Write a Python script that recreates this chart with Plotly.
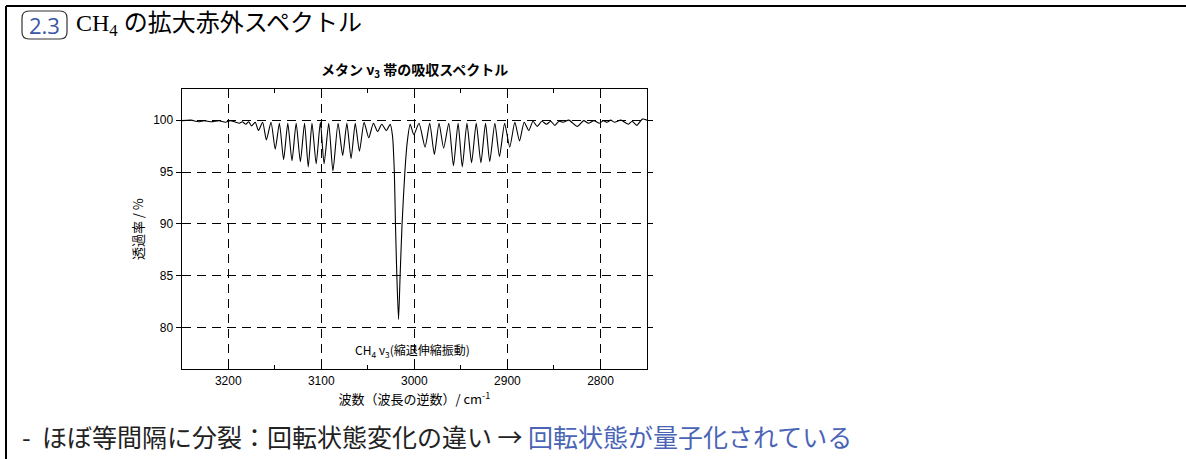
import plotly.graph_objects as go

# ---- data ----
wavenumber = [3250, 3240, 3232, 3226, 3218, 3210, 3203, 3198, 3192, 3188, 3185, 3181, 3178,
              3175, 3171, 3167.5, 3163, 3159, 3154, 3149.5, 3145, 3140.5, 3136, 3131.5, 3127,
              3122.5, 3118, 3114, 3110, 3105.5, 3101, 3097, 3092, 3087.5, 3082, 3077, 3072.5,
              3068, 3063.5, 3059, 3054, 3049, 3044, 3039.5, 3035, 3030, 3026, 3023.5, 3021.5,
              3020.3, 3018.8, 3017, 3015.3, 3013.2, 3010.2, 3007.5, 3004.5, 3000.5, 2995,
              2988.5, 2983.5, 2978.5, 2973.5, 2968.5, 2963, 2958, 2953, 2948.5, 2943.5, 2938.5,
              2933.5, 2928.5, 2923.5, 2919, 2913.5, 2908.5, 2903, 2897.5, 2892, 2887, 2882,
              2877, 2872.5, 2868, 2863, 2858, 2853.5, 2849, 2844.5, 2840, 2834, 2825, 2818,
              2813, 2807, 2801, 2797, 2793, 2789, 2785, 2778, 2770, 2766, 2761, 2755, 2750]
transmittance = [99.95, 100.0, 99.85, 99.95, 99.85, 99.95, 99.8, 99.95, 99.8, 99.7, 99.85, 99.6, 99.85,
                 99.45, 99.8, 99.0, 99.8, 98.1, 99.8, 97.2, 99.7, 96.2, 99.7, 96.1, 99.7,
                 96.0, 99.7, 95.5, 99.7, 95.8, 99.8, 95.8, 99.7, 95.1, 99.7, 96.6, 99.7,
                 96.3, 99.7, 97.0, 99.8, 98.3, 99.7, 98.9, 99.6, 99.0, 99.6, 98.5, 95.0,
                 90.0, 85.0, 80.8, 85.0, 90.0, 95.0, 98.0, 99.6, 98.6, 99.7,
                 97.4, 99.7, 96.7, 99.7, 97.3, 99.7, 95.6, 99.7, 95.5, 99.7, 95.9,
                 99.7, 95.9, 99.7, 96.0, 99.7, 96.5, 99.7, 97.4, 99.8, 98.0, 99.8,
                 99.0, 99.9, 99.4, 99.9, 99.6, 99.9, 99.5, 99.9, 99.8, 100.0, 99.4, 99.95,
                 99.7, 99.95, 99.7, 99.95, 99.8, 100.0, 99.8, 100.0, 99.6, 99.9, 99.5, 100.1, 100.0]

x_ticks = [3200, 3100, 3000, 2900, 2800]
y_ticks = [80, 85, 90, 95, 100]

header_num = "2.3"
header_title = "CH<sub>4</sub> の拡大赤外スペクトル"
chart_title = "<b>メタン ν<sub>3</sub> 帯の吸収スペクトル</b>"
x_title = "波数（波長の逆数）/ cm<sup>-1</sup>"
y_title = "透過率 / %"
band_label = "CH<sub>4</sub> ν<sub>3</sub>(縮退伸縮振動)"
note_black = "-  ほぼ等間隔に分裂：回転状態変化の違い → "
note_blue = "回転状態が量子化されている"

W, H = 1186, 459
def px(x):
    return x / W
def py(y):
    return 1 - y / H

sans = "Liberation Sans, Arial, sans-serif"
cjk = "Noto Sans CJK JP, sans-serif"

fig = go.Figure()
fig.add_trace(go.Scatter(x=wavenumber, y=transmittance, mode="lines",
                         line=dict(color="black", width=1.1, shape="spline", smoothing=0.6),
                         hoverinfo="skip", showlegend=False))

axis_common = dict(showline=True, linecolor="black", linewidth=1.2, mirror="ticks",
                   showgrid=True, gridcolor="black", gridwidth=1.1, griddash="9px,6px",
                   zeroline=False, tickfont=dict(family=sans, size=12, color="black"),
                   ticklen=5, tickcolor="black", tickwidth=1)

fig.update_layout(
    width=W, height=H, margin=dict(l=0, r=0, t=0, b=0),
    paper_bgcolor="white", plot_bgcolor="white",
    xaxis=dict(range=[3250, 2750], tickvals=x_ticks, ticks="inside",
               domain=[px(181.7), px(647)],
               minor=dict(dtick=50, tick0=2750, ticks="inside", ticklen=4, tickcolor="black", showgrid=False),
               title=dict(text=x_title, font=dict(family=cjk, size=13, color="black"), standoff=5),
               **axis_common),
    yaxis=dict(range=[76, 103], tickvals=y_ticks, ticks="outside",
               domain=[py(369.3), py(89)],
               title=dict(text=y_title, font=dict(family=cjk, size=13, color="black"), standoff=6),
               **axis_common),
)

shapes = []
# outer slide border (left and top)
shapes.append(dict(type="line", xref="paper", yref="paper", x0=px(6), x1=px(6), y0=py(6), y1=py(470),
                   line=dict(color="black", width=2)))
shapes.append(dict(type="line", xref="paper", yref="paper", x0=px(6), x1=px(1200), y0=py(6), y1=py(6),
                   line=dict(color="black", width=2)))
# rounded box around section number
x0, x1, y0, y1, r = 22, 67, 11, 39, 7
path = (f"M {px(x0 + r)} {py(y0)} L {px(x1 - r)} {py(y0)} Q {px(x1)} {py(y0)} {px(x1)} {py(y0 + r)} "
        f"L {px(x1)} {py(y1 - r)} Q {px(x1)} {py(y1)} {px(x1 - r)} {py(y1)} "
        f"L {px(x0 + r)} {py(y1)} Q {px(x0)} {py(y1)} {px(x0)} {py(y1 - r)} "
        f"L {px(x0)} {py(y0 + r)} Q {px(x0)} {py(y0)} {px(x0 + r)} {py(y0)} Z")
shapes.append(dict(type="path", xref="paper", yref="paper", path=path,
                   line=dict(color="#333333", width=1.2)))
fig.update_layout(shapes=shapes)

ann = []
ann.append(dict(text=header_num, xref="paper", yref="paper", x=px(44.5), y=py(25),
                xanchor="center", yanchor="middle", showarrow=False,
                font=dict(family="Open Sans, Noto Sans, sans-serif", size=22, color="#3a56a8")))
ann.append(dict(text=header_title, xref="paper", yref="paper", x=px(74), y=py(25),
                xanchor="left", yanchor="middle", showarrow=False,
                font=dict(family="Liberation Serif, Noto Sans CJK JP, serif", size=24, color="black")))
ann.append(dict(text=chart_title, xref="paper", yref="paper", x=px(414), y=py(70),
                xanchor="center", yanchor="middle", showarrow=False,
                font=dict(family=cjk, size=14, color="black")))
ann.append(dict(text=band_label, xref="x", yref="y", x=3002, y=77.8,
                xanchor="center", yanchor="middle", showarrow=False,
                font=dict(family=cjk, size=12, color="black")))
ann.append(dict(text=note_black + f"<span style='color:#4a64b6'>{note_blue}</span>",
                xref="paper", yref="paper", x=px(20), y=py(436),
                xanchor="left", yanchor="middle", showarrow=False,
                font=dict(family=cjk, size=25, color="#222222")))
fig.update_layout(annotations=ann)

fig.write_html("out.html")
